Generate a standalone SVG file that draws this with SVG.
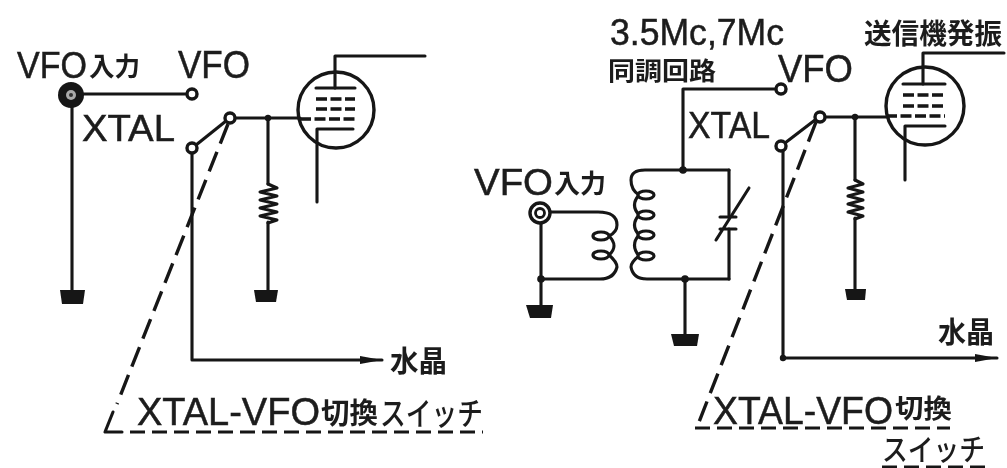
<svg xmlns="http://www.w3.org/2000/svg" width="1007" height="468" viewBox="0 0 1007 468">
<style>
.w{fill:none;stroke:#161616;stroke-width:3.1;stroke-linecap:round;stroke-linejoin:round}
.d{fill:none;stroke:#161616;stroke-width:3.4;stroke-dasharray:21 9}
.h{fill:none;stroke:#161616;stroke-width:3;stroke-dasharray:15 7}
.g{fill:none;stroke:#161616;stroke-width:3.6;stroke-dasharray:11 3.5}
.b{fill:#161616}
.c{fill:#fff;stroke:#161616;stroke-width:3.4}
.e{fill:#fff;stroke:#161616;stroke-width:3.2}
.l{font-family:"Liberation Sans",Arial,sans-serif;fill:#1c1c1c;stroke:#1c1c1c;stroke-width:.5}
.j{font-family:"Noto Sans CJK JP","Noto Sans",sans-serif;font-weight:700;fill:#1c1c1c}
.k{font-weight:500}
</style>
<defs>
<filter id="s" filterUnits="userSpaceOnUse" x="0" y="0" width="1007" height="468"><feGaussianBlur stdDeviation="0.6"/></filter>
<marker id="a" markerUnits="userSpaceOnUse" markerWidth="24" markerHeight="12" refX="22" refY="6" orient="auto"><path d="M0 2L22 6L0 10Z" fill="#161616"/></marker>
</defs>
<rect width="1007" height="468" fill="#fff"/>
<g filter="url(#s)">
<g id="connectors">
<path class="w" d="M72 100V292M80 94H187"/>
<path class="w" d="M192 153V360H382" marker-end="url(#a)"/>
<path class="w" d="M196 145L226 121M235 118H300"/>
<path class="w" d="M268 118V184M268 222V292"/>
<path class="d" d="M228 124L117 404"/>
<path class="w" d="M113 412L105 432H122"/>
<path class="h" d="M130 432H483"/>
<path class="w" d="M683 89H776M683 89V170"/>
<path class="w" d="M785 143L815 120M825 117H888"/>
<path class="w" d="M783 151V358H997" marker-end="url(#a)"/>
<path class="w" d="M855 117V180M855 218V290"/>
<path class="d" d="M816 122L699 422"/>
<path class="h" d="M695 428H950"/>
<path class="h" d="M882 467H987"/>
<path class="w" d="M549 212H598Q617 212 617 225Q617 232 609 236Q619 246 609 255Q617 262 617 267Q614 279 600 279H541"/>
<path class="w" d="M541 222V306"/>
<path class="w" d="M729 170H645Q631 170 631 180Q631 190 639 195Q630 205 639 215Q630 225 639 235Q630 245 639 256Q631 262 631 267Q633 279 647 279H729"/>
<path class="w" d="M729 170V217M729 229V279M685 279V334"/>
</g>
<g id="left-jack"><circle class="b" cx="71" cy="95" r="13"/><circle cx="71" cy="95" r="5" fill="#aaa"/><circle cx="71" cy="95" r="2" fill="#333"/></g>
<g id="left-vfo-contact"><circle class="c" cx="192" cy="94" r="5"/></g>
<g id="left-xtal-contact"><circle class="c" cx="192" cy="148" r="5"/></g>
<g id="left-arm-contact"><circle class="c" cx="230" cy="118" r="5"/></g>
<g id="left-junction"><circle class="b" cx="268" cy="118" r="3.2"/></g>
<g id="left-resistor"><path class="w" d="M268 184L277 188L260 192L277 196L260 200L277 204L260 208L277 212L260 216L277 220L268 223"/></g>
<g id="left-ground-1"><path class="b" d="M60 290H85L83 304H62Z"/></g>
<g id="left-ground-2"><path class="b" d="M254 290H278L276 302H256Z"/></g>
<g id="left-tube">
<circle cx="336" cy="110" r="38" fill="none" stroke="#161616" stroke-width="3.4"/>
<path class="w" d="M335 88V56H425"/>
<path class="w" d="M316 88H355M317 129H353M317 129V202"/>
<path class="g" d="M316 99H355M316 109H355M300 119H355"/>
</g>
<g id="right-vfo-contact"><circle class="c" cx="781" cy="89" r="5"/></g>
<g id="right-xtal-contact"><circle class="c" cx="781" cy="146" r="5"/></g>
<g id="right-arm-contact"><circle class="c" cx="820" cy="117" r="5"/></g>
<g id="right-junctions"><circle class="b" cx="683" cy="170" r="3.8"/><circle class="b" cx="855" cy="117" r="3.2"/><circle class="b" cx="541" cy="279" r="3.8"/><circle class="b" cx="685" cy="279" r="3.8"/><circle class="b" cx="783" cy="358" r="3.2"/></g>
<g id="right-jack"><circle cx="540" cy="213" r="10" fill="#fff" stroke="#161616" stroke-width="3.4"/><circle cx="540" cy="213" r="4.5" fill="#fff" stroke="#161616" stroke-width="2.8"/></g>
<g id="secondary-coil"><ellipse class="e" cx="601" cy="236" rx="8" ry="4"/><ellipse class="e" cx="601" cy="255" rx="8" ry="4"/></g>
<g id="primary-coil"><ellipse class="e" cx="646" cy="195" rx="8" ry="4"/><ellipse class="e" cx="646" cy="215" rx="8" ry="4"/><ellipse class="e" cx="646" cy="235" rx="8" ry="4"/><ellipse class="e" cx="646" cy="256" rx="8" ry="4"/></g>
<g id="variable-capacitor"><path class="w" d="M720 217H736M720 229H736M749 188L716 240"/></g>
<g id="right-resistor"><path class="w" d="M855 180L863 184L848 188L863 192L848 196L863 200L848 204L863 208L848 212L863 216L855 219"/></g>
<g id="right-ground-1"><path class="b" d="M526 305H553L551 318H530Z"/></g>
<g id="right-ground-2"><path class="b" d="M671 334H699L697 346H674Z"/></g>
<g id="right-ground-3"><path class="b" d="M845 289H866L865 300H847Z"/></g>
<g id="right-tube">
<circle cx="925" cy="106" r="39" fill="none" stroke="#161616" stroke-width="3.4"/>
<path class="w" d="M923 84V53H1004"/>
<path class="w" d="M903 84H945M905 126H945M905 126V180"/>
<path class="g" d="M903 95H945M903 106H945M886 116H945"/>
</g>
<g id="labels">
<text class="l" x="17" y="78" font-size="36" textLength="70" lengthAdjust="spacingAndGlyphs">VFO</text>
<text class="j" x="89" y="76" font-size="26" textLength="51" lengthAdjust="spacingAndGlyphs">入力</text>
<text class="l" x="178" y="78" font-size="38" textLength="72" lengthAdjust="spacingAndGlyphs">VFO</text>
<text class="l" x="82" y="141" font-size="37" textLength="93" lengthAdjust="spacingAndGlyphs">XTAL</text>
<text class="j" x="390" y="372" font-size="29" textLength="57" lengthAdjust="spacingAndGlyphs">水晶</text>
<text class="l" x="137" y="425" font-size="39" textLength="183" lengthAdjust="spacingAndGlyphs">XTAL-VFO</text>
<text class="j" x="321" y="424" font-size="29" textLength="57" lengthAdjust="spacingAndGlyphs">切換</text>
<text class="j k" x="380" y="425" font-size="32" textLength="103" lengthAdjust="spacingAndGlyphs">スイッチ</text>
<text class="l" x="610" y="45" font-size="36" textLength="174" lengthAdjust="spacingAndGlyphs">3.5Mc,7Mc</text>
<text class="j" x="608" y="80" font-size="25" textLength="108" lengthAdjust="spacingAndGlyphs">同調回路</text>
<text class="j" x="864" y="44" font-size="28" textLength="138" lengthAdjust="spacingAndGlyphs">送信機発振</text>
<text class="l" x="778" y="82" font-size="38" textLength="75" lengthAdjust="spacingAndGlyphs">VFO</text>
<text class="l" x="688" y="138" font-size="37" textLength="82" lengthAdjust="spacingAndGlyphs">XTAL</text>
<text class="l" x="474" y="195" font-size="36" textLength="79" lengthAdjust="spacingAndGlyphs">VFO</text>
<text class="j" x="554" y="193" font-size="26" textLength="52" lengthAdjust="spacingAndGlyphs">入力</text>
<text class="j" x="938" y="343" font-size="29" textLength="56" lengthAdjust="spacingAndGlyphs">水晶</text>
<text class="l" x="713" y="424" font-size="38" textLength="180" lengthAdjust="spacingAndGlyphs">XTAL-VFO</text>
<text class="j" x="895" y="418" font-size="26" textLength="57" lengthAdjust="spacingAndGlyphs">切換</text>
<text class="j k" x="882" y="460" font-size="30" textLength="103" lengthAdjust="spacingAndGlyphs">スイッチ</text>
</g>
</g>
</svg>
